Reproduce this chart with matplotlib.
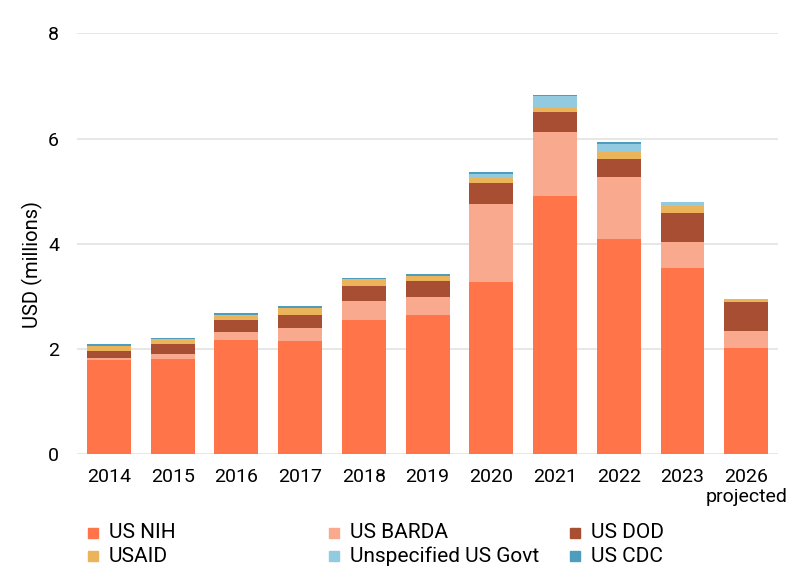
import numpy as np
import matplotlib
matplotlib.use("Agg")
import matplotlib.pyplot as plt
from matplotlib.patches import Rectangle

plt.rcParams['font.family'] = ['Roboto', 'DejaVu Sans']

years = ['2014', '2015', '2016', '2017', '2018', '2019', '2020', '2021', '2022', '2023', '2026\nprojected']

# USD millions
us_nih = [1.79, 1.81, 2.17, 2.15, 2.55, 2.65, 3.28, 4.91, 4.09, 3.53, 2.01]
us_barda = [0.04, 0.09, 0.15, 0.25, 0.36, 0.33, 1.47, 1.21, 1.18, 0.50, 0.32]
us_dod = [0.13, 0.19, 0.22, 0.25, 0.29, 0.31, 0.41, 0.38, 0.34, 0.56, 0.56]
usaid = [0.09, 0.08, 0.09, 0.12, 0.11, 0.09, 0.09, 0.09, 0.14, 0.13, 0.05]
unspecified = [0.01, 0.01, 0.01, 0.01, 0.01, 0.01, 0.07, 0.21, 0.15, 0.07, 0.0]
us_cdc = [0.04, 0.03, 0.04, 0.04, 0.03, 0.03, 0.04, 0.03, 0.025, 0.01, 0.0]

series = [
    ('US NIH', us_nih, '#ff7549'),
    ('US BARDA', us_barda, '#f9a98e'),
    ('US DOD', us_dod, '#a84e32'),
    ('USAID', usaid, '#ecb45a'),
    ('Unspecified US Govt', unspecified, '#92cbe0'),
    ('US CDC', us_cdc, '#4c9dbe'),
]

fig = plt.figure(figsize=(8.08, 5.86), dpi=100)
ax = fig.add_axes([0.0953, 0.2253, 0.8677, 0.7177])

x = np.arange(len(years))
bottom = np.zeros(len(years))
for name, vals, col in series:
    ax.bar(x, vals, bottom=bottom, width=0.69, color=col, zorder=3)
    bottom += np.array(vals)

ax.set_xlim(-0.5, len(years) - 0.5)
ax.set_ylim(0, 8)
ax.set_yticks([0, 2, 4, 6, 8])
ax.set_xticks(x)
ax.set_xticklabels(years, fontsize=14, linespacing=1.15)
ax.tick_params(axis='y', labelsize=14, length=0, pad=13)
ax.tick_params(axis='x', length=0, pad=10)
ax.yaxis.grid(True, color='#e3e3e3', lw=1.2, zorder=0)
for s in ax.spines.values():
    s.set_visible(False)
ax.set_ylabel('USD (millions)', fontsize=14.5, va='center')
ax.yaxis.set_label_coords(-0.064, 0.45)

# legend laid out in a 3 x 2 grid
cols_x = [88, 329, 570]
rows_y = [533, 556]
W, H = 808, 586
for i, (name, vals, col) in enumerate(series):
    cx = cols_x[i % 3]
    cy = rows_y[i // 3]
    fig.patches.append(Rectangle((cx / W, 1 - (cy + 5) / H), 10 / W, 10 / H,
                                 transform=fig.transFigure, color=col))
    fig.text((cx + 21) / W, 1 - cy / H, name, fontsize=15, va='center', ha='left')

fig.savefig('out.png', dpi=100)
